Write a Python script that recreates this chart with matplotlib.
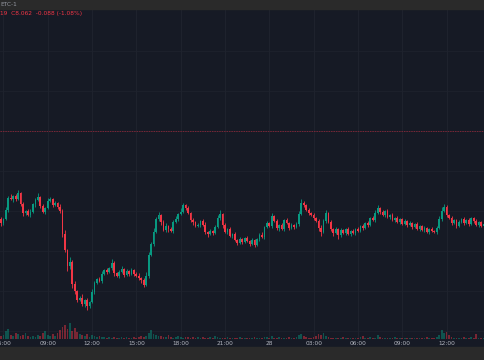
import numpy as np
import pandas as pd
import matplotlib
matplotlib.use("Agg")
import matplotlib.pyplot as plt
from matplotlib.patches import Rectangle

# 10 minute candles, closes (open = previous close)
first_open = 8.062
closes = [
    8.058, 8.062, 8.071, 8.083, 8.082, 8.085, 8.082, 8.088, 8.077, 8.068,
    8.070, 8.066, 8.069, 8.077, 8.081, 8.084, 8.075, 8.069, 8.073, 8.080,
    8.082, 8.076, 8.078, 8.074, 8.070, 8.047, 8.031, 8.015, 8.019, 7.997,
    7.990, 7.981, 7.983, 7.977, 7.981, 7.975, 7.979, 7.989, 7.998, 8.002,
    8.000, 8.007, 8.011, 8.009, 8.013, 8.018, 8.008, 8.005, 8.009, 8.012,
    8.006, 8.010, 8.007, 8.011, 8.007, 8.005, 8.003, 8.001, 7.996, 8.005,
    8.026, 8.037, 8.049, 8.062, 8.066, 8.059, 8.051, 8.055, 8.052, 8.050,
    8.059, 8.062, 8.067, 8.069, 8.076, 8.073, 8.068, 8.061, 8.059, 8.055,
    8.056, 8.060, 8.056, 8.049, 8.047, 8.050, 8.048, 8.054, 8.063, 8.067,
    8.056, 8.049, 8.052, 8.045, 8.047, 8.041, 8.038, 8.042, 8.039, 8.043,
    8.040, 8.037, 8.041, 8.036, 8.042, 8.046, 8.044, 8.054, 8.058, 8.055,
    8.065, 8.060, 8.053, 8.056, 8.052, 8.061, 8.058, 8.053, 8.056, 8.054,
    8.057, 8.067, 8.078, 8.076, 8.071, 8.068, 8.066, 8.063, 8.060, 8.053,
    8.049, 8.060, 8.068, 8.059, 8.052, 8.048, 8.052, 8.046, 8.051, 8.048,
    8.052, 8.047, 8.050, 8.048, 8.052, 8.050, 8.055, 8.053, 8.058, 8.056,
    8.063, 8.061, 8.068, 8.073, 8.069, 8.066, 8.070, 8.064, 8.066, 8.061,
    8.063, 8.059, 8.062, 8.057, 8.060, 8.056, 8.058, 8.054, 8.057, 8.052,
    8.055, 8.051, 8.053, 8.049, 8.052, 8.050, 8.049, 8.053, 8.062, 8.070,
    8.074, 8.066, 8.063, 8.058, 8.061, 8.055, 8.059, 8.062, 8.058, 8.061,
    8.057, 8.063, 8.060, 8.056, 8.059, 8.055, 8.057,
]
# wick lengths above / below the body, in thousandths
upper_wick = [
    2, 1, 3, 2, 4, 1, 2, 3, 1, 2, 1, 2, 3, 1, 2, 4, 1, 2, 1, 3,
    2, 1, 2, 1, 3, 2, 4, 1, 5, 2, 3, 1, 2, 4, 1, 2, 1, 3, 2, 1,
    2, 3, 1, 2, 1, 4, 2, 1, 2, 3, 1, 2, 1, 2, 1, 2, 3, 1, 2, 4,
    3, 2, 4, 2, 3, 1, 2, 3, 1, 2, 2, 3, 1, 4, 2, 1, 2, 1, 2, 1,
    2, 1, 2, 3, 1, 2, 1, 2, 3, 4, 1, 2, 1, 2, 1, 2, 1, 2, 1, 1,
    2, 1, 2, 1, 1, 2, 3, 1, 2, 1, 3, 1, 2, 1, 2, 1, 2, 1, 2, 1,
    2, 3, 4, 2, 1, 2, 1, 2, 1, 2, 3, 2, 3, 1, 2, 1, 2, 1, 2, 1,
    1, 2, 1, 2, 1, 2, 1, 2, 1, 2, 1, 2, 3, 3, 1, 2, 1, 2, 1, 2,
    1, 2, 1, 1, 2, 1, 2, 1, 1, 2, 1, 1, 2, 1, 1, 2, 1, 2, 3, 4,
    3, 2, 1, 2, 1, 1, 2, 1, 2, 1, 2, 1, 1, 2, 1, 1, 1,
]
lower_wick = [
    3, 2, 1, 2, 1, 3, 2, 1, 2, 3, 2, 1, 2, 1, 3, 1, 2, 1, 2, 1,
    1, 2, 1, 2, 2, 3, 2, 5, 3, 4, 3, 2, 1, 2, 3, 4, 2, 1, 2, 1,
    1, 2, 1, 2, 1, 2, 3, 1, 2, 1, 2, 1, 2, 1, 2, 1, 2, 3, 2, 1,
    2, 1, 2, 1, 2, 3, 1, 2, 3, 1, 2, 1, 2, 1, 1, 2, 1, 2, 3, 1,
    1, 2, 1, 2, 3, 1, 2, 1, 1, 2, 3, 1, 2, 1, 2, 1, 2, 1, 2, 1,
    1, 2, 1, 2, 1, 2, 1, 2, 1, 1, 2, 1, 2, 3, 1, 2, 1, 2, 1, 2,
    1, 2, 1, 2, 1, 2, 1, 2, 1, 3, 4, 1, 2, 1, 2, 3, 1, 4, 2, 1,
    2, 1, 2, 1, 2, 1, 1, 2, 1, 2, 1, 1, 2, 1, 2, 1, 2, 1, 2, 1,
    2, 1, 2, 1, 1, 2, 1, 2, 1, 1, 2, 1, 2, 1, 2, 1, 1, 2, 1, 2,
    1, 2, 1, 2, 1, 2, 1, 1, 2, 1, 2, 1, 2, 1, 2, 1, 1,
]
volumes = [
    3, 4, 8, 10, 4, 3, 6, 5, 3, 4, 6, 3, 2,
    3, 2, 4, 3, 6, 8, 4, 3, 5, 3,
    6, 9, 12, 14, 10, 16, 8, 11, 7, 5,
    4, 3, 5, 2, 4, 3, 2, 3,
    2, 2, 1, 2, 1, 2, 1, 1, 2, 1, 2, 1, 1, 2, 1, 2, 3, 2, 3, 6,
    9, 5, 4, 3,
    3, 2, 2, 4, 2, 1, 2, 3, 2, 1, 2, 2, 1, 2, 1, 2, 1,
    2, 1, 1, 2, 1, 3, 2, 1, 1, 1, 2, 1, 1, 1, 1, 2, 1, 1, 1, 1,
    1, 2, 1, 1, 1, 2, 2, 1, 3, 1, 1, 2, 1, 1, 1, 2, 1, 1, 2, 4,
    5, 3, 2, 1, 1, 2, 3, 5, 4, 6, 3, 2, 1,
    1, 1, 1, 1, 2, 1, 1, 1, 1, 1, 1, 2, 3, 1, 1, 2, 1, 1, 4, 2,
    1, 1, 1, 1, 1, 2, 1, 1, 1, 1, 1, 1, 1, 1, 1, 1, 1, 1, 2, 1, 1, 1, 2, 4,
    9, 6, 7, 4, 2, 1, 1, 1, 1, 2, 1, 1, 2, 1, 5, 1, 1, 1,
]
prev_close = 8.150
header_symbol = "ETC-1"
header_quote = "19  C8.062  -0.088 (-1.08%)"

BG = "#161a25"
UP = "#089981"
DOWN = "#f23645"
GRID = "#1e222d"
TXT = "#b2b5be"

times = pd.date_range("2023-07-27 05:50", periods=len(closes), freq="10min")
x = np.arange(len(closes))
close = np.array(closes)
opens = np.concatenate([[first_open], close[:-1]])
up = close >= opens
body = close - opens
body = np.where(np.abs(body) < 0.0007, np.where(up, 0.0007, -0.0007), body)
highs = np.maximum(opens, close) + np.array(upper_wick) / 1000
lows = np.minimum(opens, close) - np.array(lower_wick) / 1000

fig = plt.figure(figsize=(4.85, 3.6), dpi=100)
fig.patch.set_facecolor(BG)
fig.patches.append(Rectangle((0, 351 / 360), 1, 9 / 360, transform=fig.transFigure,
                             color="#2a2a2a", zorder=0))
fig.patches.append(Rectangle((0, 0), 1, 13 / 360, transform=fig.transFigure,
                             color="#2a2a2a", zorder=0))

ax = fig.add_axes([0, 21 / 360, 1, 330 / 360])
ax.set_facecolor(BG)
ax.set_xlim(-0.38, 196.6)
ax.set_ylim(7.942, 8.272)

# grid
tick_idx = [i for i, t in enumerate(times) if t.minute == 0 and t.hour % 3 == 0]
tick_lab = [str(times[i].day) if times[i].hour == 0 else times[i].strftime("%H:%M")
            for i in tick_idx]
for i in tick_idx:
    ax.axvline(i, color=GRID, lw=0.8, zorder=0)
for yv in np.arange(7.95, 8.27, 0.04):
    ax.axhline(yv, color=GRID, lw=0.6, zorder=0)
ax.axhline(prev_close, color="#7a2636", lw=0.7, ls=(0, (1.5, 1)), zorder=1)

# volume overlay
ax2 = ax.twinx()
ax2.set_ylim(0, 330)
vcol = [UP if u else DOWN for u in up]
ax2.bar(x, volumes, width=0.7, color=vcol, alpha=0.45, linewidth=0)
ax2.axis("off")

# candles
ccol = [UP if u else DOWN for u in up]
ax.vlines(x, lows, highs, colors=ccol, lw=0.6, zorder=2)
ax.bar(x, body, bottom=opens, width=0.7, color=ccol, linewidth=0, zorder=3)

for s in ax.spines.values():
    s.set_visible(False)
ax.set_xticks([])
ax.set_yticks([])

for i, lab in zip(tick_idx, tick_lab):
    xf = (i + 0.38) / (196.6 + 0.38)
    fig.text(xf, (360 - 343.5) / 360, lab, color=TXT, fontsize=4.2,
             ha="center", va="center")

fig.text(0.0, (360 - 4) / 360, header_symbol, color="#9598a1", fontsize=4.2,
         ha="left", va="center")
fig.text(0.0, (360 - 14) / 360, header_quote, color=DOWN, fontsize=4.2,
         ha="left", va="center")

fig.savefig("out.png", dpi=100, facecolor=fig.get_facecolor())
